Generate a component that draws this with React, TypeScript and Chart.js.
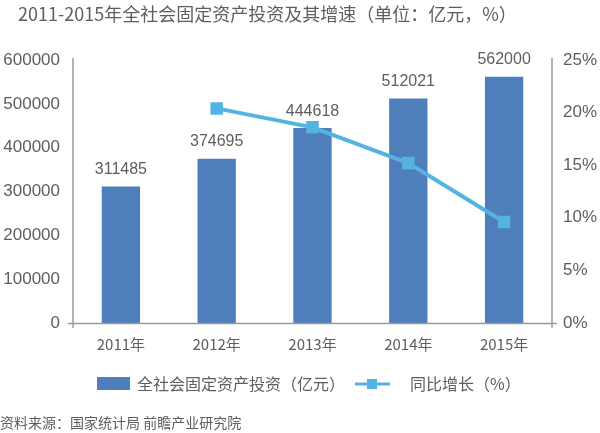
import React, { useEffect, useRef } from "react";
import { Chart, registerables } from "chart.js";

Chart.register(...registerables);

const categories = ["2011年", "2012年", "2013年", "2014年", "2015年"];
const investment = [311485, 374695, 444618, 512021, 562000];
const growth = [null, 20.4, 18.6, 15.2, 9.6];
const leftTicks = [0, 100000, 200000, 300000, 400000, 500000, 600000];
const rightTicks = [0, 5, 10, 15, 20, 25];
const titleText = "2011-2015年全社会固定资产投资及其增速（单位：亿元，%）";
const barLegend = "全社会固定资产投资（亿元）";
const lineLegend = "同比增长（%）";
const sourceText = "资料来源：国家统计局 前瞻产业研究院";

const BAR_COLOR = "#4f7fba";
const LINE_COLOR = "#55b3e3";
const TEXT_COLOR = "#5e5e5e";
const AXIS_COLOR = "#9a9a9a";
const FONT = "'Liberation Sans', 'Noto Sans CJK SC', Arial, sans-serif";
const CJK = "'Noto Sans CJK SC', 'Liberation Sans', sans-serif";

const decorPlugin = {
  id: "decor",
  afterDraw(chart: any) {
    const ctx = chart.ctx;
    const area = chart.chartArea;
    ctx.save();
    // axes
    ctx.strokeStyle = AXIS_COLOR;
    ctx.lineWidth = 1.5;
    ctx.beginPath();
    ctx.moveTo(area.left - 5, area.bottom + 0.5);
    ctx.lineTo(area.right + 5, area.bottom + 0.5);
    ctx.moveTo(area.left, area.top - 2);
    ctx.lineTo(area.left, area.bottom + 5);
    ctx.moveTo(area.right, area.top - 2);
    ctx.lineTo(area.right, area.bottom + 5);
    ctx.stroke();

    // bar value labels
    const meta = chart.getDatasetMeta(0);
    ctx.fillStyle = TEXT_COLOR;
    ctx.font = `16px ${FONT}`;
    ctx.textAlign = "center";
    ctx.textBaseline = "bottom";
    meta.data.forEach((el: any, i: number) => {
      ctx.fillText(String(investment[i]), el.x, el.y - 9);
    });

    // title
    ctx.font = `18px ${CJK}`;
    ctx.textAlign = "left";
    ctx.textBaseline = "middle";
    ctx.fillStyle = TEXT_COLOR;
    ctx.fillText(titleText, 18, 14);

    // legend
    ctx.fillStyle = BAR_COLOR;
    ctx.fillRect(97, 377, 33, 13);
    ctx.fillStyle = TEXT_COLOR;
    ctx.font = `16px ${CJK}`;
    ctx.fillText(barLegend, 137, 384);
    ctx.strokeStyle = LINE_COLOR;
    ctx.lineWidth = 3;
    ctx.beginPath();
    ctx.moveTo(355, 384);
    ctx.lineTo(390, 384);
    ctx.stroke();
    ctx.fillStyle = LINE_COLOR;
    ctx.fillRect(367, 379, 10, 10);
    ctx.fillStyle = TEXT_COLOR;
    ctx.fillText(lineLegend, 410, 384);

    // source
    ctx.font = `14px ${CJK}`;
    ctx.fillStyle = TEXT_COLOR;
    ctx.fillText(sourceText, 0, 423);
    ctx.restore();
  },
};

export default function App() {
  const ref = useRef<HTMLCanvasElement>(null);
  useEffect(() => {
    document.body.style.margin = "0";
    const chart = new Chart(ref.current as HTMLCanvasElement, {
      type: "bar",
      data: {
        labels: categories,
        datasets: [
          {
            type: "bar",
            label: barLegend,
            data: investment,
            backgroundColor: BAR_COLOR,
            yAxisID: "y",
            barPercentage: 0.4,
            categoryPercentage: 1,
            order: 2,
          },
          {
            type: "line",
            label: lineLegend,
            data: growth as any,
            borderColor: LINE_COLOR,
            backgroundColor: LINE_COLOR,
            borderWidth: 4,
            pointStyle: "rect",
            pointRadius: 6,
            pointHoverRadius: 6,
            yAxisID: "y1",
            tension: 0,
            order: 1,
          },
        ],
      },
      options: {
        responsive: false,
        animation: false,
        layout: { padding: { top: 60, left: 0, right: 0, bottom: 0 } },
        plugins: {
          legend: { display: false },
          title: { display: false },
          tooltip: { enabled: false },
        },
        scales: {
          x: {
            grid: { display: false, drawTicks: false },
            border: { display: false },
            ticks: {
              color: TEXT_COLOR,
              font: { size: 15, family: CJK },
              padding: 12,
            },
            afterFit(scale: any) {
              scale.height = 433 - 323;
            },
          },
          y: {
            position: "left",
            min: 0,
            max: 600000,
            afterBuildTicks(scale: any) {
              scale.ticks = leftTicks.map((v) => ({ value: v }));
            },
            grid: { display: false, drawTicks: false },
            border: { display: false },
            ticks: {
              color: TEXT_COLOR,
              font: { size: 17, family: FONT },
              padding: 13,
              callback: (v: any) => String(v),
            },
            afterFit(scale: any) {
              scale.width = 73;
            },
          },
          y1: {
            position: "right",
            min: 0,
            max: 25,
            afterBuildTicks(scale: any) {
              scale.ticks = rightTicks.map((v) => ({ value: v }));
            },
            grid: { display: false, drawTicks: false },
            border: { display: false },
            ticks: {
              color: TEXT_COLOR,
              font: { size: 17, family: FONT },
              padding: 11,
              callback: (v: any) => v + "%",
            },
            afterFit(scale: any) {
              scale.width = 600 - 552;
            },
          },
        },
      },
      plugins: [decorPlugin],
    });
    return () => chart.destroy();
  }, []);
  return (
    <div style={{ position: "absolute", left: 0, top: 0, width: 600, height: 433 }}>
      <canvas ref={ref} width={600} height={433} style={{ width: 600, height: 433 }} />
    </div>
  );
}
